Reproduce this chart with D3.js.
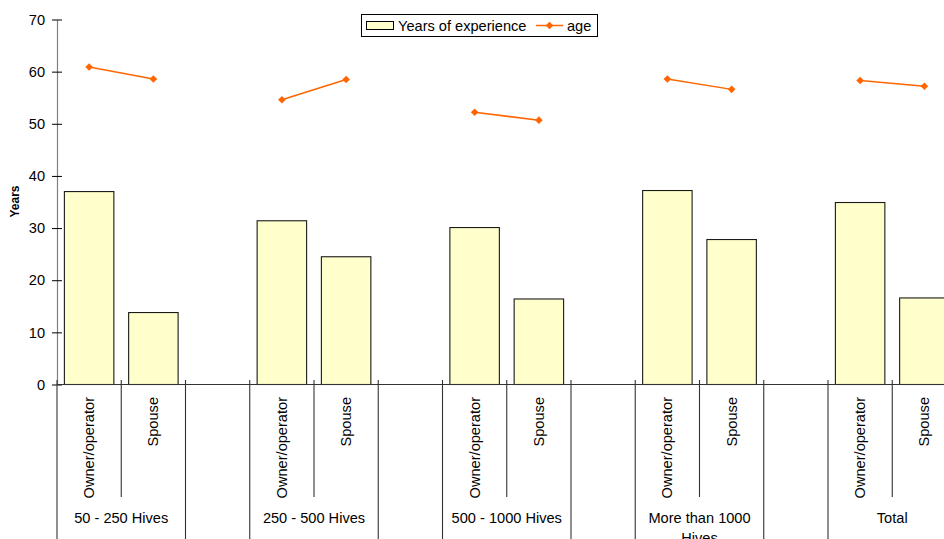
<!DOCTYPE html>
<html>
<head>
<meta charset="utf-8">
<script src="https://cdn.jsdelivr.net/npm/d3@7"></script>
<style>
  body { margin: 0; background: #fff; }
  svg { display: block; font-family: "Liberation Sans", Arial, sans-serif; }
</style>
</head>
<body>
<svg id="chart" width="944" height="539"></svg>
<script>
// Farm-size groups and the two respondent roles inside each group
const groups = ["50 - 250 Hives", "250 - 500 Hives", "500 - 1000 Hives", "More than 1000 Hives", "Total"];
const roles = ["Owner/operator", "Spouse"];

// Values per group, in role order (owner, spouse)
const experience = [37.0, 13.8, 31.4, 24.5, 30.1, 16.4, 37.2, 27.8, 34.9, 16.6];
const age = [60.9, 58.6, 54.6, 58.5, 52.2, 50.7, 58.6, 56.6, 58.3, 57.2];

const yTicks = [0, 10, 20, 30, 40, 50, 60, 70];
const seriesNames = ["Years of experience", "age"];

const FONT = 14.6;
const BAR_FILL = "#FFFFCC";
const AGE_COLOR = "#FF6600";

const svg = d3.select("#chart");

// Each group occupies three slots: owner, spouse, and an empty spacer
const slotsPerGroup = 3;
const slotW = 64.25;
const x0 = 57;
const nSlots = groups.length * slotsPerGroup;
const x = d3.scaleBand()
  .domain(d3.range(nSlots))
  .range([x0, x0 + nSlots * slotW])
  .paddingInner(0).paddingOuter(0);
const y = d3.scaleLinear().domain([0, 70]).range([384.5, 19.5]);

const inset = x.bandwidth() * 0.115;
const barW = x.bandwidth() - 2 * inset;

const rows = experience.map((v, i) => {
  const g = Math.floor(i / roles.length), r = i % roles.length;
  return { g, r, slot: g * slotsPerGroup + r, exp: v, age: age[i], role: roles[r] };
});

// ---- Y axis ----
const yAxis = svg.append("g")
  .attr("transform", `translate(${x0},0)`)
  .call(d3.axisLeft(y).tickValues(yTicks).tickSizeInner(5).tickSizeOuter(0).tickPadding(7));
yAxis.select(".domain").attr("stroke", "#808080").attr("stroke-width", 1.2);
yAxis.selectAll(".tick line").attr("x1", 5).attr("stroke", "#000");
yAxis.selectAll(".tick text")
  .attr("font-size", FONT).attr("fill", "#000")
  .attr("font-family", "Liberation Sans, Arial, sans-serif");

svg.append("text")
  .attr("transform", "translate(14.5,201.5) rotate(-90)")
  .attr("text-anchor", "middle")
  .attr("dominant-baseline", "central")
  .attr("font-size", 12).attr("font-weight", "bold")
  .text("Years");

// ---- Bars ----
svg.append("g").selectAll("rect")
  .data(rows).join("rect")
  .attr("x", d => x(d.slot) + inset)
  .attr("y", d => y(d.exp))
  .attr("width", barW)
  .attr("height", d => y(0) - y(d.exp))
  .attr("fill", BAR_FILL)
  .attr("stroke", "#1a1a1a")
  .attr("stroke-width", 1.1);

// ---- X axis line and category separators ----
svg.append("line")
  .attr("x1", x0).attr("x2", 944)
  .attr("y1", y(0)).attr("y2", y(0))
  .attr("stroke", "#333").attr("stroke-width", 1.1);

const bounds = d3.range(nSlots + 1).map(i => ({
  i, px: i < nSlots ? x(i) : x.range()[1],
  short: i % slotsPerGroup === 1
}));
svg.append("g").selectAll("line")
  .data(bounds).join("line")
  .attr("x1", d => d.px).attr("x2", d => d.px)
  .attr("y1", y(0) - 4.5)
  .attr("y2", d => d.short ? 497 : 545)
  .attr("stroke", "#333").attr("stroke-width", 1.1);

// Role labels (rotated)
svg.append("g").selectAll("text")
  .data(rows).join("text")
  .attr("transform", d => `translate(${x(d.slot) + x.bandwidth() / 2},397) rotate(-90)`)
  .attr("text-anchor", "end")
  .attr("dominant-baseline", "central")
  .attr("font-size", FONT)
  .text(d => d.role);

// Group labels, wrapped when wider than their two slots
const groupLabels = svg.append("g").selectAll("text")
  .data(groups).join("text")
  .attr("x", (d, i) => x(i * slotsPerGroup) + x.bandwidth())
  .attr("y", 522.5)
  .attr("text-anchor", "middle")
  .attr("font-size", FONT)
  .text(d => d);

groupLabels.each(function (d, i) {
  const el = d3.select(this);
  const maxW = x.bandwidth() * 2 - 6;
  if (this.getComputedTextLength() <= maxW) return;
  const words = d.split(" ");
  const cx = +el.attr("x");
  el.text(null);
  let line = [];
  let tspan = el.append("tspan").attr("x", cx).attr("dy", 0);
  words.forEach(w => {
    line.push(w);
    tspan.text(line.join(" "));
    if (tspan.node().getComputedTextLength() > maxW && line.length > 1) {
      line.pop();
      tspan.text(line.join(" "));
      line = [w];
      tspan = el.append("tspan").attr("x", cx).attr("dy", 20).text(w);
    }
  });
});

// ---- Age line (within each group) with diamond markers ----
const diamond = s => `M0,${-s}L${s},0L0,${s}L${-s},0Z`;
const line = d3.line()
  .x(d => x(d.slot) + x.bandwidth() / 2)
  .y(d => y(d.age));

svg.append("g").selectAll("path")
  .data(d3.groups(rows, d => d.g).map(g => g[1]))
  .join("path")
  .attr("d", line)
  .attr("fill", "none")
  .attr("stroke", AGE_COLOR)
  .attr("stroke-width", 1.5);

svg.append("g").selectAll("path")
  .data(rows).join("path")
  .attr("transform", d => `translate(${x(d.slot) + x.bandwidth() / 2},${y(d.age)})`)
  .attr("d", diamond(3.8))
  .attr("fill", AGE_COLOR);

// ---- Legend ----
const lg = svg.append("g");
lg.append("rect")
  .attr("x", 361.5).attr("y", 14.5).attr("width", 236).attr("height", 22)
  .attr("fill", "#fff").attr("stroke", "#000").attr("stroke-width", 1);
lg.append("rect")
  .attr("x", 366.5).attr("y", 21.5).attr("width", 27).attr("height", 8)
  .attr("fill", BAR_FILL).attr("stroke", "#000").attr("stroke-width", 1);
lg.append("text")
  .attr("x", 398).attr("y", 31)
  .attr("font-size", FONT)
  .text(seriesNames[0]);
lg.append("line")
  .attr("x1", 536).attr("x2", 563).attr("y1", 25.5).attr("y2", 25.5)
  .attr("stroke", AGE_COLOR).attr("stroke-width", 1.5);
lg.append("path")
  .attr("transform", "translate(549.5,25.5)")
  .attr("d", diamond(3.8))
  .attr("fill", AGE_COLOR);
lg.append("text")
  .attr("x", 567).attr("y", 31)
  .attr("font-size", FONT)
  .text(seriesNames[1]);
</script>
</body>
</html>
